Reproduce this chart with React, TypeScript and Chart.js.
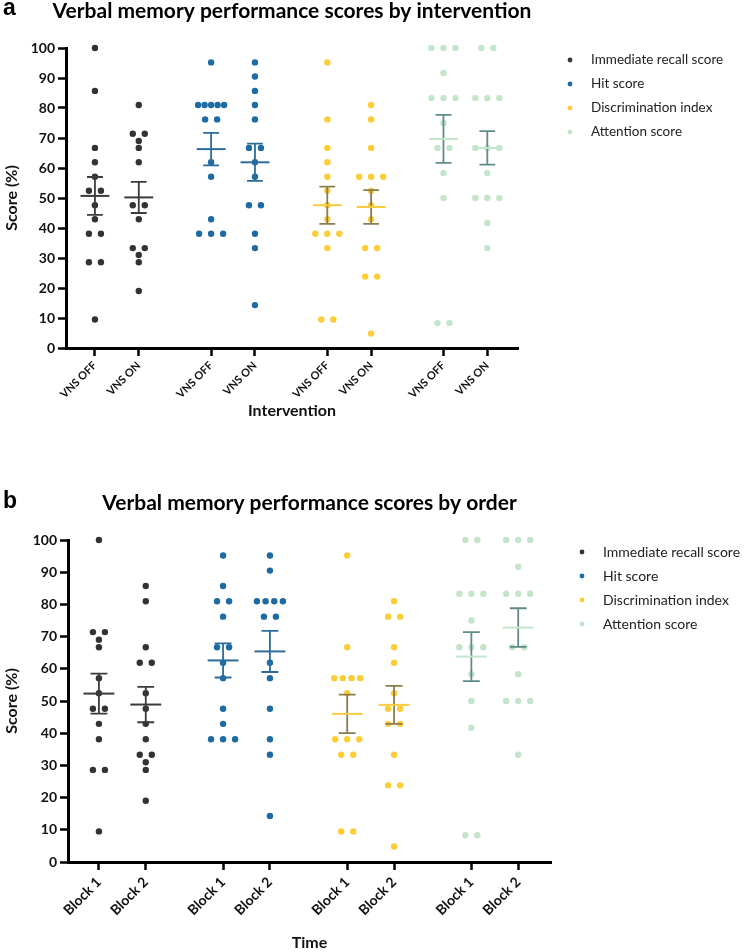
import React, { useEffect, useRef } from 'react';
import { Chart, registerables } from 'chart.js';

Chart.register(...registerables);

// ---------- data ----------
const POSITIONS = [0, 1, 2.65, 3.65, 5.3, 6.3, 7.95, 8.95];
const X_MIN = -0.66;
const X_MAX = 9.65;
const Y_TICKS = [0, 10, 20, 30, 40, 50, 60, 70, 80, 90, 100];

const MEASURES = ['Immediate recall score', 'Hit score', 'Discrimination index', 'Attention score'];
const LABELS_A = ['VNS OFF', 'VNS ON', 'VNS OFF', 'VNS ON', 'VNS OFF', 'VNS ON', 'VNS OFF', 'VNS ON'];
const LABELS_B = ['Block 1', 'Block 2', 'Block 1', 'Block 2', 'Block 1', 'Block 2', 'Block 1', 'Block 2'];

// Panel a: by intervention
const recallOffA = [100, 85.7, 66.7, 61.9, 57.1, 52.4, 52.4, 47.6, 42.9, 38.1, 38.1, 28.6, 28.6, 9.5];
const recallOnA = [81.0, 71.4, 71.4, 69.0, 66.7, 61.9, 47.6, 47.6, 42.9, 33.3, 33.3, 31.0, 28.6, 19.0];
const hitOffA = [95.2, 81.0, 81.0, 81.0, 81.0, 81.0, 76.2, 76.2, 61.9, 57.1, 42.9, 38.1, 38.1, 38.1];
const hitOnA = [95.2, 90.5, 85.7, 81.0, 76.2, 66.7, 66.7, 61.9, 57.1, 47.6, 47.6, 38.1, 33.3, 14.3];
const discOffA = [95.2, 76.2, 66.7, 61.9, 57.1, 52.4, 47.6, 42.9, 38.1, 38.1, 38.1, 33.3, 9.5, 9.5];
const discOnA = [81.0, 76.2, 66.7, 57.1, 57.1, 57.1, 52.4, 47.6, 42.9, 33.3, 33.3, 23.8, 23.8, 4.8];
const attOffA = [100, 100, 100, 91.7, 83.3, 83.3, 83.3, 75.0, 66.7, 66.7, 58.3, 50.0, 8.3, 8.3];
const attOnA = [100, 100, 83.3, 83.3, 83.3, 66.7, 66.7, 66.7, 58.3, 50.0, 50.0, 50.0, 41.7, 33.3];
const meanA = [50.7, 50.2, 66.3, 61.9, 47.6, 47.0, 69.7, 66.7];
const semA = [6.3, 5.2, 5.4, 6.2, 6.2, 5.6, 8.0, 5.6];

// Panel b: by order
const recallB1 = [100, 71.4, 71.4, 69.0, 66.7, 57.1, 52.4, 47.6, 47.6, 42.9, 38.1, 28.6, 28.6, 9.5];
const recallB2 = [85.7, 81.0, 66.7, 61.9, 61.9, 52.4, 47.6, 42.9, 38.1, 33.3, 33.3, 31.0, 28.6, 19.0];
const hitB1 = [95.2, 85.7, 81.0, 81.0, 76.2, 66.7, 66.7, 61.9, 57.1, 47.6, 42.9, 38.1, 38.1, 38.1];
const hitB2 = [95.2, 90.5, 81.0, 81.0, 81.0, 81.0, 76.2, 76.2, 61.9, 57.1, 47.6, 38.1, 33.3, 14.3];
const discB1 = [95.2, 66.7, 57.1, 57.1, 57.1, 57.1, 52.4, 38.1, 38.1, 38.1, 33.3, 33.3, 9.5, 9.5];
const discB2 = [81.0, 76.2, 76.2, 66.7, 61.9, 52.4, 47.6, 47.6, 42.9, 42.9, 33.3, 23.8, 23.8, 4.8];
const attB1 = [100, 100, 83.3, 83.3, 83.3, 75.0, 66.7, 66.7, 66.7, 58.3, 50.0, 41.7, 8.3, 8.3];
const attB2 = [100, 100, 100, 91.7, 83.3, 83.3, 83.3, 66.7, 66.7, 58.3, 50.0, 50.0, 50.0, 33.3];
const meanB = [52.3, 48.9, 62.6, 65.4, 46.0, 48.8, 63.8, 72.8];
const semB = [6.2, 5.5, 5.3, 6.4, 6.0, 5.9, 7.6, 6.0];

// ---------- styles ----------
const COLORS = [
  { dot: '#333333', bar: '#3b3b3b', mean: '#3b3b3b' },
  { dot: '#1e6aa2', bar: '#2a6d9c', mean: '#2a6d9c' },
  { dot: '#fccd36', bar: '#8c7b4d', mean: '#f7cb42' },
  { dot: '#c4e4cc', bar: '#5f8c86', mean: '#c4e4cc' },
];
const FONT = 'Lato, "Open Sans", sans-serif';

type Spec = {
  letter: string;
  title: string;
  xTitle: string;
  labels: string[];
  groups: number[][];
  means: number[];
  sems: number[];
  height: number;
  padTop: number;
  padRight: number;
  yWidth: number;
  xHeight: number;
  xTitlePad: number;
  letterY: number;
  titleY: number;
  legendX: number;
  tickSize: number;
  tickPad: number;
  legendSize: number;
  ppu: number;
};

function swarm(values: number[], center: number, ppu: number) {
  const counts = new Map<string, number>();
  values.forEach((v) => {
    const k = v.toFixed(1);
    counts.set(k, (counts.get(k) || 0) + 1);
  });
  const seen = new Map<string, number>();
  return values.map((v) => {
    const k = v.toFixed(1);
    const n = counts.get(k) || 1;
    const idx = seen.get(k) || 0;
    seen.set(k, idx + 1);
    const spacingPx = n >= 4 ? 26 / (n - 1) : 12;
    const offPx = (idx - (n - 1) / 2) * spacingPx;
    return { x: center + offPx / ppu, y: v };
  });
}

function decorPlugin(spec: Spec) {
  return {
    id: 'decor' + spec.letter,
    afterDatasetsDraw(chart: any) {
      const { ctx, scales } = chart;
      const x = scales.x;
      const y = scales.y;
      const ppu = x.getPixelForValue(1) - x.getPixelForValue(0);
      const capHalf = 0.18 * ppu;
      const meanHalf = 0.33 * ppu;
      POSITIONS.forEach((p, i) => {
        const c = COLORS[Math.floor(i / 2)];
        const cx = x.getPixelForValue(p);
        const m = spec.means[i];
        const s = spec.sems[i];
        const ym = y.getPixelForValue(m);
        const yt = y.getPixelForValue(m + s);
        const yb = y.getPixelForValue(m - s);
        ctx.save();
        ctx.strokeStyle = c.bar;
        ctx.lineWidth = 1.8;
        ctx.beginPath();
        ctx.moveTo(cx, yt);
        ctx.lineTo(cx, yb);
        ctx.moveTo(cx - capHalf, yt);
        ctx.lineTo(cx + capHalf, yt);
        ctx.moveTo(cx - capHalf, yb);
        ctx.lineTo(cx + capHalf, yb);
        ctx.stroke();
        ctx.strokeStyle = c.mean;
        ctx.lineWidth = 2;
        ctx.beginPath();
        ctx.moveTo(cx - meanHalf, ym);
        ctx.lineTo(cx + meanHalf, ym);
        ctx.stroke();
        ctx.restore();
      });
    },
    afterDraw(chart: any) {
      const { ctx, chartArea } = chart;
      ctx.save();
      ctx.fillStyle = '#000';
      ctx.textBaseline = 'alphabetic';
      ctx.textAlign = 'left';
      ctx.font = 'bold 23px "Liberation Sans", Arial, sans-serif';
      ctx.fillText(spec.letter, 3, spec.letterY);
      ctx.textAlign = 'center';
      ctx.font = 'bold 21px ' + FONT;
      ctx.fillText(spec.title, (chartArea.left + chartArea.right) / 2, spec.titleY);
      ctx.textAlign = 'left';
      ctx.textBaseline = 'middle';
      ctx.font = spec.legendSize + 'px ' + FONT;
      MEASURES.forEach((m, i) => {
        const yy = chartArea.top + 12 + i * 24;
        ctx.fillStyle = COLORS[i].dot;
        ctx.beginPath();
        ctx.arc(spec.legendX, yy, 2.4, 0, Math.PI * 2);
        ctx.fill();
        ctx.fillStyle = '#222';
        ctx.fillText(m, spec.legendX + 21, yy);
      });
      ctx.restore();
    },
  };
}

function buildConfig(spec: Spec): any {
  const datasets = MEASURES.map((m, d) => ({
    label: m,
    data: [
      ...swarm(spec.groups[2 * d], POSITIONS[2 * d], spec.ppu),
      ...swarm(spec.groups[2 * d + 1], POSITIONS[2 * d + 1], spec.ppu),
    ],
    backgroundColor: COLORS[d].dot,
    borderWidth: 0,
    pointRadius: 3.2,
    pointHoverRadius: 3.2,
    clip: false,
  }));
  const axisGrid = {
    display: true,
    drawOnChartArea: false,
    drawTicks: true,
    tickLength: 8,
    tickWidth: 2.5,
    tickColor: '#000',
  };
  const axisBorder = { display: true, width: 3, color: '#000' };
  return {
    type: 'scatter',
    data: { datasets },
    options: {
      responsive: false,
      animation: false,
      devicePixelRatio: 1,
      events: [],
      layout: { padding: { top: spec.padTop, left: 0, right: spec.padRight, bottom: 0 } },
      plugins: { legend: { display: false }, tooltip: { enabled: false }, title: { display: false } },
      scales: {
        x: {
          type: 'linear',
          min: X_MIN,
          max: X_MAX,
          afterBuildTicks: (s: any) => {
            s.ticks = POSITIONS.map((v) => ({ value: v }));
          },
          afterFit: (s: any) => {
            s.height = spec.xHeight;
          },
          ticks: {
            autoSkip: false,
            minRotation: 45,
            maxRotation: 45,
            padding: spec.tickPad,
            color: '#111',
            font: { family: FONT, size: spec.tickSize, weight: 'bold' },
            callback: (_v: any, i: number) => spec.labels[i],
          },
          grid: axisGrid,
          border: axisBorder,
          title: {
            display: true,
            text: spec.xTitle,
            color: '#111',
            font: { family: FONT, size: 16, weight: 'bold' },
            padding: { top: 0, bottom: spec.xTitlePad },
          },
        },
        y: {
          type: 'linear',
          min: 0,
          max: 100,
          afterBuildTicks: (s: any) => {
            s.ticks = Y_TICKS.map((v) => ({ value: v }));
          },
          afterFit: (s: any) => {
            s.width = spec.yWidth;
          },
          ticks: {
            padding: 3,
            color: '#111',
            font: { family: FONT, size: 14, weight: 'bold' },
          },
          grid: axisGrid,
          border: axisBorder,
          title: {
            display: true,
            text: 'Score (%)',
            color: '#111',
            font: { family: FONT, size: 16, weight: 'bold' },
            padding: { top: 2, bottom: 0 },
          },
        },
      },
    },
    plugins: [decorPlugin(spec)],
  };
}

const SPEC_A: Spec = {
  letter: 'a',
  title: 'Verbal memory performance scores by intervention',
  xTitle: 'Intervention',
  labels: LABELS_A,
  groups: [recallOffA, recallOnA, hitOffA, hitOnA, discOffA, discOnA, attOffA, attOnA],
  means: meanA,
  sems: semA,
  height: 440,
  padTop: 48,
  padRight: 228,
  yWidth: 66,
  xHeight: 92,
  xTitlePad: 20,
  letterY: 15,
  titleY: 18,
  legendX: 570,
  tickSize: 11,
  tickPad: 3,
  legendSize: 13.5,
  ppu: 43.8,
};

const SPEC_B: Spec = {
  letter: 'b',
  title: 'Verbal memory performance scores by order',
  xTitle: 'Time',
  labels: LABELS_B,
  groups: [recallB1, recallB2, hitB1, hitB2, discB1, discB2, attB1, attB2],
  means: meanB,
  sems: semB,
  height: 512,
  padTop: 100,
  padRight: 195,
  yWidth: 68,
  xHeight: 90,
  xTitlePad: 0,
  letterY: 68,
  titleY: 70,
  legendX: 582,
  tickSize: 14,
  tickPad: 4,
  legendSize: 14,
  ppu: 46.8,
};

function Panel({ spec }: { spec: Spec }) {
  const ref = useRef<HTMLCanvasElement>(null);
  useEffect(() => {
    const chart = new Chart(ref.current as HTMLCanvasElement, buildConfig(spec));
    return () => chart.destroy();
  }, [spec]);
  return (
    <div style={{ width: 746, height: spec.height, position: 'relative' }}>
      <canvas ref={ref} width={746} height={spec.height} style={{ display: 'block', width: 746, height: spec.height }} />
    </div>
  );
}

export default function App() {
  return (
    <div style={{ position: 'absolute', left: 0, top: 0, width: 746, height: 952, background: '#fff' }}>
      <Panel spec={SPEC_A} />
      <Panel spec={SPEC_B} />
    </div>
  );
}
